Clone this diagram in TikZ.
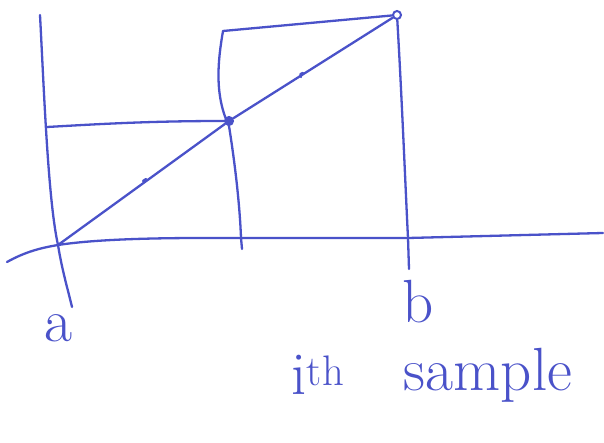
\documentclass[tikz,border=0pt]{standalone}
\usepackage{tikz}
\definecolor{ink}{HTML}{4A52C9}

\begin{document}
\begin{tikzpicture}[x=1pt, y=-1pt,
  pen/.style={draw=ink, line width=2.3pt, line cap=round, line join=round},
  dot/.style={circle, draw=ink, line width=2pt, inner sep=0pt, minimum size=8pt},
  lbl/.style={text=ink, inner sep=0pt, font=\fontsize{61}{61}\selectfont}]
\useasboundingbox (0,0) rectangle (604,443);
% the three points on the slanted line
\coordinate (a) at (58,245);
\node[dot, fill=ink] (p) at (229,121) {};
\node[dot] (q) at (397,15) {};
% corners of the sketch
\coordinate (l) at (47,127);
\coordinate (top) at (223,31);
\coordinate (mid) at (241,238);
\coordinate (rb) at (408,238);
% axes
\draw[pen] (40,15) .. controls (44,90) and (48,200) .. (a)
  .. controls (62,270) and (68,290) .. (72,307);
\draw[pen] (7,262) .. controls (25,252) and (40,248) .. (a)
  .. controls (110,237) and (200,238) .. (mid) -- (rb) -- (603,233);
% slanted line
\draw[pen] (a) -- (p) -- (q);
\draw[pen] (143,181) -- (146,179);
\draw[pen] (301,77) .. controls (300,74) .. (303,73);
% guide lines
\draw[pen] (l) .. controls (100,124) and (150,121) .. (p.west);
\draw[pen] (q) -- (top) .. controls (218,60) and (214,95) .. (p.south)
  .. controls (236,170) and (240,210) .. (mid) -- (242,249);
\draw[pen] (q) .. controls (402,100) and (406,200) .. (rb) -- (409,269);
% labels
\node[lbl] (la) at (58,328) {a};
\node[lbl] (lb) at (418,302) {b};
\node[lbl] (li) at (318,375) {i\textsuperscript{th}};
\node[lbl] (ls) at (488,375) {sample};
\end{tikzpicture}
\end{document}
